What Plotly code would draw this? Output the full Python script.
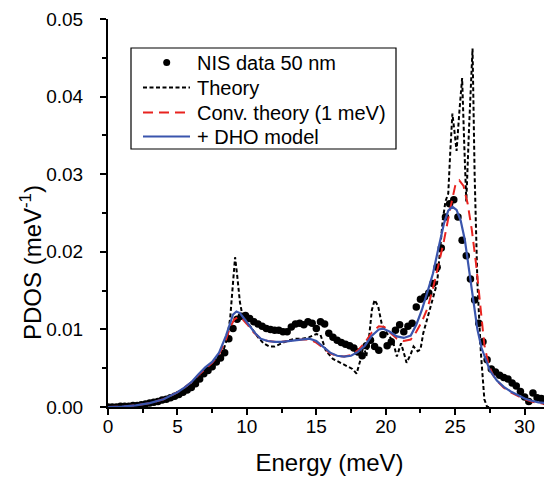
import plotly.graph_objects as go

# NIS data 50 nm
nis_x = [0.0, 0.3, 0.6, 0.9, 1.2, 1.5, 1.8, 2.1, 2.4, 2.7, 3.0, 3.3, 3.6, 3.9, 4.2, 4.5, 4.8,
         5.1, 5.4, 5.7, 6.0, 6.3, 6.6, 6.9, 7.2, 7.5, 7.8, 8.1, 8.4, 8.7, 9.0, 9.3, 9.6, 9.9,
         10.2, 10.5, 10.8, 11.1, 11.4, 11.7, 12.0, 12.3, 12.6, 12.9, 13.2, 13.5, 13.8, 14.1,
         14.4, 14.7, 15.0, 15.3, 15.6, 15.9, 16.2, 16.5, 16.8, 17.1, 17.4, 17.7, 18.0, 18.3,
         18.6, 18.9, 19.2, 19.5, 19.8, 20.1, 20.4, 20.7, 21.0, 21.3, 21.6, 21.9, 22.2, 22.5,
         22.8, 23.1, 23.4, 23.7, 24.0, 24.3, 24.6, 24.9, 25.2, 25.5, 25.8, 26.1, 26.4, 26.7,
         27.0, 27.3, 27.6, 27.9, 28.2, 28.5, 28.8, 29.1, 29.4, 29.7, 30.0, 30.3, 30.6, 30.9,
         31.2, 31.5, 31.8]
nis_y = [0.0000, 0.0000, 0.0000, 0.0001, 0.0001, 0.0001, 0.0002, 0.0002, 0.0003, 0.0004,
         0.0005, 0.0006, 0.0007, 0.0009, 0.0010, 0.0012, 0.0014, 0.0016, 0.0019, 0.0022,
         0.0025, 0.0030, 0.0036, 0.0043, 0.0047, 0.0052, 0.0058, 0.0063, 0.0070, 0.0088,
         0.0101, 0.0113, 0.0117, 0.0118, 0.0114, 0.0110, 0.0107, 0.0104, 0.0101, 0.0100,
         0.0099, 0.0099, 0.0097, 0.0097, 0.0103, 0.0107, 0.0108, 0.0106, 0.0110, 0.0108,
         0.0101, 0.0110, 0.0107, 0.0095, 0.0090, 0.0086, 0.0083, 0.0081, 0.0079, 0.0076,
         0.0071, 0.0066, 0.0079, 0.0086, 0.0078, 0.0073, 0.0093, 0.0079, 0.0084, 0.0099,
         0.0106, 0.0097, 0.0104, 0.0108, 0.0129, 0.0139, 0.0142, 0.0147, 0.0159, 0.0180,
         0.0205, 0.0245, 0.0262, 0.0267, 0.0245, 0.0215, 0.0195, 0.0165, 0.0138, 0.0108,
         0.0084, 0.0061, 0.0049, 0.0045, 0.0041, 0.0038, 0.0036, 0.0031, 0.0027, 0.0020,
         0.0013, 0.0007, 0.0018, 0.0012, 0.0011, 0.0007, 0.0005]

# Theory
th_x = [0, 1, 2, 3, 4, 5, 5.5, 6, 6.5, 7, 7.5, 8, 8.3, 8.6, 8.8, 9.0, 9.15, 9.3, 9.5, 9.7,
        10.0, 10.4, 10.8, 11.2, 11.6, 12.0, 12.5, 13.0, 13.5, 14.0, 14.5, 15.0, 15.3, 15.7,
        16.2, 16.7, 17.2, 17.6, 17.9, 18.2, 18.4, 18.6, 18.8, 19.0, 19.2, 19.45, 19.7, 19.9,
        20.2, 20.5, 20.8, 21.1, 21.3, 21.5, 21.8, 22.0, 22.3, 22.5, 22.7, 23.0, 23.2, 23.5,
        23.7, 23.9, 24.1, 24.3, 24.5, 24.65, 24.8, 24.95, 25.1, 25.3, 25.5, 25.65, 25.8,
        26.0, 26.25, 26.4, 26.6, 26.85, 27.1, 27.3, 27.5]
th_y = [0, 0.00005, 0.0002, 0.0005, 0.0010, 0.0018, 0.0024, 0.0031, 0.0040, 0.0048, 0.0054,
        0.0062, 0.0072, 0.0090, 0.0115, 0.0160, 0.0193, 0.0170, 0.0135, 0.0116, 0.0110,
        0.0100, 0.0090, 0.0082, 0.0078, 0.0078, 0.0082, 0.0086, 0.0088, 0.0088, 0.0090,
        0.0094, 0.0093, 0.0072, 0.0062, 0.0057, 0.0052, 0.0049, 0.0043, 0.0062, 0.0080,
        0.0065, 0.0090, 0.0125, 0.0138, 0.0130, 0.0108, 0.0100, 0.0092, 0.0086, 0.0065,
        0.0082, 0.0070, 0.0057, 0.0068, 0.0078, 0.0072, 0.0074, 0.0095, 0.0115, 0.0128,
        0.0145, 0.0160, 0.0200, 0.0240, 0.0265, 0.0275, 0.0330, 0.0378, 0.0355, 0.0330,
        0.0380, 0.0424, 0.0340, 0.0265, 0.0360, 0.0462, 0.0300, 0.0160, 0.0070, 0.0010,
        0.0, 0.0]

# Conv. theory (1 meV)
cv_x = [0, 1, 2, 3, 4, 5, 5.5, 6, 6.5, 7, 7.5, 8, 8.5, 8.8, 9.1, 9.4, 9.7, 10.0, 10.5, 11.0,
        11.5, 12.0, 12.5, 13.0, 13.5, 14.0, 14.5, 15.0, 15.5, 16.0, 16.5, 17.0, 17.5, 18.0,
        18.5, 19.0, 19.5, 19.9, 20.3, 20.8, 21.3, 21.8, 22.2, 22.6, 23.0, 23.4, 23.8, 24.2,
        24.6, 25.0, 25.3, 25.6, 25.9, 26.2, 26.5, 26.8, 27.1, 27.4, 27.7, 28.0, 28.5, 29.0,
        29.5, 30.0, 30.5, 31.0, 31.5, 32.0]
cv_y = [0, 0.00005, 0.0002, 0.0005, 0.0010, 0.0019, 0.0025, 0.0032, 0.0041, 0.0049, 0.0057,
        0.0068, 0.0087, 0.0103, 0.0113, 0.0116, 0.0113, 0.0107, 0.0096, 0.0088, 0.0085,
        0.0084, 0.0084, 0.0085, 0.0086, 0.0087, 0.0087, 0.0083, 0.0076, 0.0069, 0.0066,
        0.0065, 0.0067, 0.0073, 0.0083, 0.0096, 0.0104, 0.0103, 0.0096, 0.0088, 0.0085,
        0.0087, 0.0097, 0.0110, 0.0127, 0.0153, 0.0183, 0.0215, 0.0252, 0.0285, 0.0292,
        0.0285, 0.0262, 0.0228, 0.0185, 0.0130, 0.0080, 0.0055, 0.0042, 0.0034, 0.0025,
        0.0019, 0.0014, 0.0010, 0.0007, 0.0005, 0.0004, 0.0003]

# + DHO model
dho_x = [0, 1, 2, 3, 4, 5, 5.5, 6, 6.5, 7, 7.5, 8, 8.5, 8.8, 9.0, 9.25, 9.5, 9.8, 10.2, 10.6,
         11.0, 11.5, 12.0, 12.5, 13.0, 13.5, 14.0, 14.5, 15.0, 15.5, 16.0, 16.5, 17.0, 17.5,
         18.0, 18.5, 19.0, 19.5, 19.8, 20.3, 20.8, 21.3, 21.8, 22.2, 22.6, 23.0, 23.4, 23.8,
         24.2, 24.5, 24.8, 25.1, 25.4, 25.7, 26.0, 26.3, 26.6, 26.9, 27.2, 27.5, 28.0, 28.5,
         29.0, 29.5, 30.0, 30.5, 31.0, 31.5, 32.0]
dho_y = [0, 0.00005, 0.0002, 0.0005, 0.0010, 0.0019, 0.0025, 0.0032, 0.0042, 0.0051, 0.0058,
         0.0070, 0.0092, 0.0110, 0.0119, 0.0123, 0.0121, 0.0114, 0.0105, 0.0095, 0.0088,
         0.0085, 0.0084, 0.0084, 0.0085, 0.0086, 0.0087, 0.0088, 0.0085, 0.0078, 0.0070,
         0.0066, 0.0065, 0.0066, 0.0071, 0.0079, 0.0092, 0.0100, 0.0101, 0.0097, 0.0091,
         0.0089, 0.0092, 0.0106, 0.0125, 0.0148, 0.0172, 0.0205, 0.0237, 0.0253, 0.0258,
         0.0254, 0.0240, 0.0215, 0.0175, 0.0135, 0.0100, 0.0076, 0.0060, 0.0047, 0.0034,
         0.0026, 0.0020, 0.0015, 0.0011, 0.0008, 0.0006, 0.0005, 0.0004]

legend_labels = ["NIS data 50 nm", "Theory", "Conv. theory (1 meV)", "+ DHO model"]
x_ticks = [0, 5, 10, 15, 20, 25, 30]
y_ticks = [0.00, 0.01, 0.02, 0.03, 0.04, 0.05]
y_tick_text = ["0.00", "0.01", "0.02", "0.03", "0.04", "0.05"]

FONT = "Liberation Sans, Arial, sans-serif"
BLUE = "#3a55ad"
RED = "#e8231f"

# The page body has an 8px margin; size the figure so the plot area lands at
# page pixels left=108, right=551, top=19, bottom=407.
OFF = 8
W, H = 544, 471
ML, MR, MT, MB = 100, 1, 11, 72
PW, PH = W - ML - MR, H - MT - MB


def px(xp):  # page pixel -> paper x
    return (xp - OFF - ML) / PW


def py(yp):  # page pixel -> paper y
    return (OFF + H - MB - yp) / PH


fig = go.Figure()
fig.add_trace(go.Scatter(x=nis_x, y=nis_y, mode="markers", name=legend_labels[0],
                         marker=dict(color="black", size=7.5, line=dict(width=0))))
fig.add_trace(go.Scatter(x=th_x, y=th_y, mode="lines", name=legend_labels[1],
                         line=dict(color="black", width=2, dash="4px,2.5px")))
fig.add_trace(go.Scatter(x=cv_x, y=cv_y, mode="lines", name=legend_labels[2],
                         line=dict(color=RED, width=2, dash="10px,6px")))
fig.add_trace(go.Scatter(x=dho_x, y=dho_y, mode="lines", name=legend_labels[3],
                         line=dict(color=BLUE, width=2.2)))

# legend (box, samples, labels)
shapes = [dict(type="rect", xref="paper", yref="paper", x0=px(131), x1=px(396),
               y0=py(149), y1=py(48), line=dict(color="black", width=1.2),
               fillcolor="white", layer="above")]
rows = [62.5, 87.5, 112.5, 136.5]
shapes.append(dict(type="circle", xref="paper", yref="paper",
                   x0=px(163.2), x1=px(170.2), y0=py(rows[0] + 3.5), y1=py(rows[0] - 3.5),
                   fillcolor="black", line=dict(width=0), layer="above"))
styles = [("black", "4px,2.5px", 2), (RED, "10px,6px", 2), (BLUE, "solid", 2.2)]
for r, (c, d, w) in zip(rows[1:], styles):
    shapes.append(dict(type="line", xref="paper", yref="paper", x0=px(143), x1=px(190),
                       y0=py(r), y1=py(r), line=dict(color=c, dash=d, width=w), layer="above"))
annotations = [dict(text=t, xref="paper", yref="paper", x=px(195), y=py(r),
                    xanchor="left", yanchor="middle", showarrow=False,
                    font=dict(size=20, family=FONT, color="black"))
               for t, r in zip(legend_labels, rows)]
# y-axis title (sits below the axis centre in the reference)
annotations.append(dict(text="PDOS (meV<sup>-1</sup>)", xref="paper", yref="paper",
                        x=px(31), y=py(263), xanchor="center", yanchor="middle",
                        textangle=-90, showarrow=False,
                        font=dict(size=24, family=FONT, color="black")))

xr = [0, 31.9]
yr = [0, 0.05]
common = dict(showgrid=False, zeroline=False, linecolor="black", linewidth=2,
              tickcolor="black", tickwidth=2, ticklen=6, automargin=False)
tfont = dict(size=19, family=FONT, color="black")

fig.update_layout(
    width=W, height=H,
    margin=dict(l=ML, r=MR, t=MT, b=MB, autoexpand=False),
    paper_bgcolor="white", plot_bgcolor="white",
    font=dict(family=FONT, color="black"),
    showlegend=False,
    shapes=shapes, annotations=annotations,
    xaxis=dict(range=xr, tickvals=x_ticks, ticks="outside",
               tickfont=tfont, showline=True, ticklabelstandoff=-5,
               minor=dict(dtick=2.5, ticks="outside", ticklen=4, tickwidth=2, tickcolor="black"),
               title=dict(text="Energy (meV)", font=dict(size=24, family=FONT), standoff=18), **common),
    yaxis=dict(range=yr, tickvals=y_ticks, ticktext=y_tick_text, ticks="outside",
               tickfont=tfont, showline=True, ticklabelstandoff=13,
               minor=dict(dtick=0.005, ticks="outside", ticklen=4, tickwidth=2, tickcolor="black"),
               **common),
    xaxis2=dict(range=xr, overlaying="x", side="top", anchor="y", tickvals=x_ticks,
                ticks="inside", showticklabels=False, showline=True,
                minor=dict(dtick=2.5, ticks="inside", ticklen=4, tickwidth=2, tickcolor="black"),
                **common),
    yaxis2=dict(range=yr, overlaying="y", side="right", anchor="x", tickvals=y_ticks,
                ticks="inside", showticklabels=False, showline=True,
                minor=dict(dtick=0.005, ticks="inside", ticklen=4, tickwidth=2, tickcolor="black"),
                **common),
)

fig.write_html("out.html")
